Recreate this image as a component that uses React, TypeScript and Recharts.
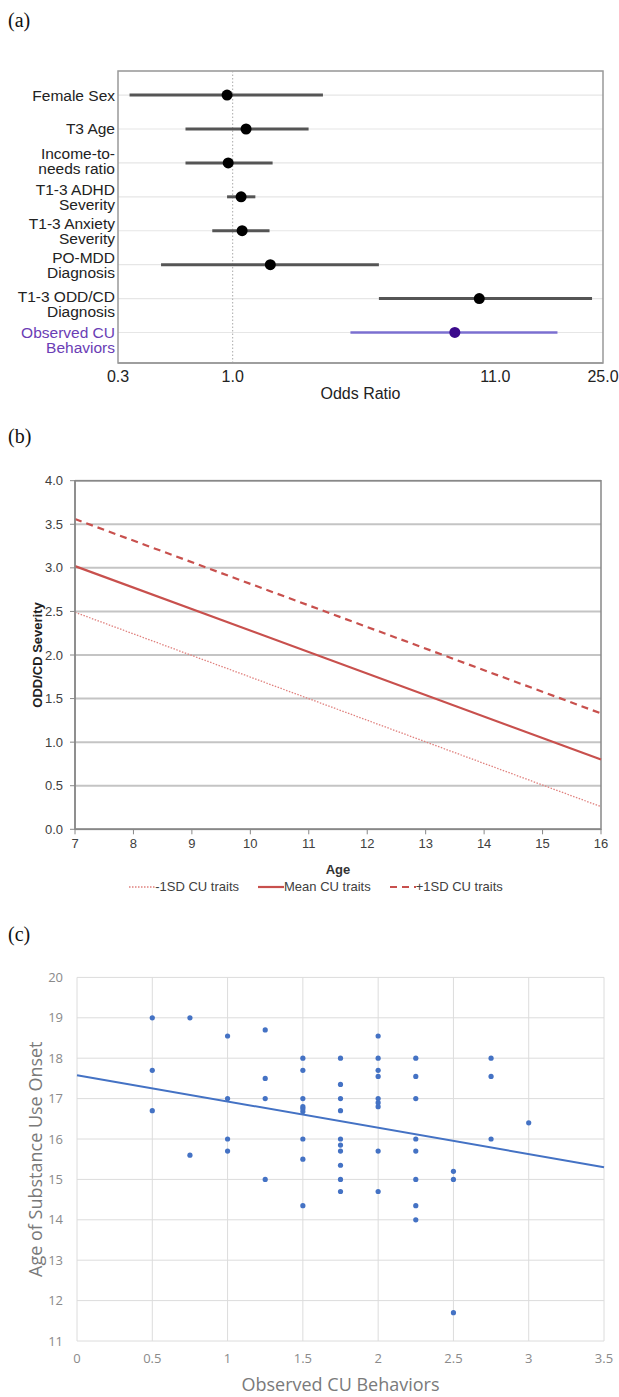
import React from "react"
import {
  ScatterChart, Scatter, LineChart, Line, XAxis, YAxis,
  CartesianGrid, ErrorBar, ReferenceLine, ReferenceArea,
} from "recharts"

// (a) odds ratios
const predictorLines = [
  ["Female Sex"],
  ["T3 Age"],
  ["Income-to-", "needs ratio"],
  ["T1-3 ADHD", "Severity"],
  ["T1-3 Anxiety", "Severity"],
  ["PO-MDD", "Diagnosis"],
  ["T1-3 ODD/CD", "Diagnosis"],
  ["Observed CU", "Behaviors"],
]
const oddsRatio = [0.95, 1.13, 0.96, 1.08, 1.09, 1.41, 9.5, 7.6]
const ciLower = [0.39, 0.65, 0.65, 0.95, 0.83, 0.52, 3.8, 2.93]
const ciUpper = [2.28, 2.0, 1.44, 1.23, 1.4, 3.8, 26.6, 19.4]
const oddsTicks = [0.351, 1, 11, 29.4]
const oddsTickLabels = ["0.3", "1.0", "11.0", "25.0"]
const oddsMinorTicks = [0.4, 0.5, 0.6, 0.7, 0.8, 0.9, 2, 3, 4, 5, 6, 7, 8, 9, 10, 20]
const rowIndex = [0, 1, 2, 3, 4, 5, 6, 7]

// (b) simple slopes
const ages = [7, 16]
const ageTicks = [7, 8, 9, 10, 11, 12, 13, 14, 15, 16]
const lowCU = [2.49, 0.26]
const meanCU = [3.02, 0.8]
const highCU = [3.56, 1.33]
const severityTicks = [0, 0.5, 1, 1.5, 2, 2.5, 3, 3.5, 4]

// (c) scatter
const cuX = [
  0.5, 0.5, 0.5,
  0.75, 0.75,
  1, 1, 1, 1,
  1.25, 1.25, 1.25, 1.25,
  1.5, 1.5, 1.5, 1.5, 1.5, 1.5, 1.5, 1.5, 1.5,
  1.75, 1.75, 1.75, 1.75, 1.75, 1.75, 1.75, 1.75, 1.75, 1.75,
  2, 2, 2, 2, 2, 2, 2, 2, 2,
  2.25, 2.25, 2.25, 2.25, 2.25, 2.25, 2.25, 2.25,
  2.5, 2.5, 2.5,
  2.75, 2.75, 2.75,
  3,
]
const onsetAge = [
  19.0, 17.7, 16.7,
  19.0, 15.6,
  18.55, 17.0, 16.0, 15.7,
  18.7, 17.5, 17.0, 15.0,
  18.0, 17.7, 17.0, 16.8, 16.75, 16.68, 16.0, 15.5, 14.35,
  18.0, 17.35, 17.0, 16.7, 16.0, 15.85, 15.7, 15.35, 15.0, 14.7,
  18.55, 18.0, 17.7, 17.55, 17.0, 16.9, 16.8, 15.7, 14.7,
  18.0, 17.55, 17.0, 16.0, 15.7, 15.0, 14.35, 14.0,
  15.2, 15.0, 11.7,
  18.0, 17.55, 16.0,
  16.4,
]
const trendX = [0, 3.5]
const trendY = [17.58, 15.3]
const cuTicks = [0, 0.5, 1, 1.5, 2, 2.5, 3, 3.5]
const onsetTicks = [11, 12, 13, 14, 15, 16, 17, 18, 19, 20]

const sans = "'Liberation Sans', Arial, sans-serif"
const open = "'Open Sans', sans-serif"
const red = "#c8504d"
const blue = "#4472c4"
// small vertical nudge of the row labels, as in the original figure
const labelShift = [0, 0, -2, 0, 0, 0, 6, 8]

const forestRows = rowIndex.map((i) => ({
  y: i,
  or: oddsRatio[i],
  err: [oddsRatio[i] - ciLower[i], ciUpper[i] - oddsRatio[i]],
}))
const forestMain = forestRows.slice(0, 7)
const forestCU = forestRows.slice(7)

const slopeData = ages.map((a, i) => ({ age: a, low: lowCU[i], mean: meanCU[i], high: highCU[i] }))
const slopeSeries = [
  { key: "low", name: "-1SD CU traits", dash: "1.5 1.5", width: 1.3, color: "#e0817e" },
  { key: "mean", name: "Mean CU traits", dash: undefined, width: 2.2, color: red },
  { key: "high", name: "+1SD CU traits", dash: "7 5", width: 2.2, color: red },
]

const scatterData = cuX.map((x, i) => ({ x, y: onsetAge[i] }))
const trendData = trendX.map((x, i) => ({ x, y: trendY[i] }))

function PredictorTick({ x, y, payload }: any) {
  const lines = predictorLines[payload.value] || []
  const color = payload.value === 7 ? "#6a3db5" : "#222"
  const step = 15
  const start = -(lines.length - 1) * step / 2 + (labelShift[payload.value] || 0)
  return (
    <text x={x} y={y} textAnchor="end" fill={color} fontSize={15.5} fontFamily={sans}>
      {lines.map((l, i) => (
        <tspan key={i} x={x} y={y + start + i * step} dy="0.35em">{l}</tspan>
      ))}
    </text>
  )
}

const dot = (color: string, r: number) => (p: any) =>
  <circle cx={p.cx} cy={p.cy} r={r} fill={color} />

function PanelTag({ text, top }: { text: string; top: number }) {
  return (
    <div style={{
      position: "absolute", left: 8, top, lineHeight: "22px",
      fontFamily: "'Liberation Serif', 'Times New Roman', serif", fontSize: 20, color: "#111",
    }}>{text}</div>
  )
}

function ForestPlot() {
  return (
    <ScatterChart width={619} height={405} margin={{ top: 71, right: 16, bottom: 6, left: 0 }}>
      <CartesianGrid vertical={false} stroke="#e6e6e6" strokeWidth={1.2} />
      <XAxis
        type="number" dataKey="or" scale="log" domain={[0.351, 29.4]} allowDataOverflow
        ticks={oddsTicks}
        tickFormatter={(v) => oddsTickLabels[oddsTicks.indexOf(v)] ?? ""}
        tick={{ fontSize: 16, fill: "#222", fontFamily: sans }}
        tickLine={false} tickSize={0} tickMargin={8}
        axisLine={{ stroke: "#999", strokeWidth: 1.5 }}
        height={36}
        label={{ value: "Odds Ratio", position: "insideBottom", offset: 0, fontSize: 16, fill: "#222", fontFamily: sans }}
      />
      <XAxis
        xAxisId="top" orientation="top" type="number" scale="log" domain={[0.351, 29.4]} allowDataOverflow
        ticks={oddsMinorTicks} tickFormatter={() => ""} mirror tickSize={4}
        tickLine={{ stroke: "#999" }} axisLine={false} height={0}
      />
      <YAxis
        type="number" dataKey="y" domain={[-0.71, 7.9]} reversed allowDataOverflow
        ticks={rowIndex} tick={<PredictorTick />} tickLine={false} tickSize={0} tickMargin={3}
        axisLine={false} width={118}
      />
      <ReferenceLine x={1} stroke="#aaa" strokeDasharray="1.5 2" />
      <ReferenceArea x1={0.351} x2={29.4} y1={-0.71} y2={7.9} fill="none" stroke="#999" strokeWidth={1.5} />
      <Scatter data={forestMain} shape={dot("#000", 5.5)} isAnimationActive={false}>
        <ErrorBar dataKey="err" direction="x" width={0} stroke="#555" strokeWidth={3} isAnimationActive={false} />
      </Scatter>
      <Scatter data={forestCU} shape={dot("#3b0a8c", 5.5)} isAnimationActive={false}>
        <ErrorBar dataKey="err" direction="x" width={0} stroke="#7b6fd0" strokeWidth={2.5} isAnimationActive={false} />
      </Scatter>
    </ScatterChart>
  )
}

function SlopePlot() {
  return (
    <LineChart width={619} height={450} data={slopeData} margin={{ top: 40.7, right: 18, bottom: 15.7, left: 0 }}>
      <CartesianGrid vertical={false} stroke="#c4c4c4" strokeWidth={2} />
      <XAxis
        type="number" dataKey="age" domain={[7, 16]} ticks={ageTicks}
        tick={{ fontSize: 13, fill: "#404040", fontFamily: sans }}
        tickSize={5} tickMargin={4} tickLine={{ stroke: "#888" }}
        axisLine={{ stroke: "#888", strokeWidth: 1.5 }} height={45}
        label={{ value: "Age", position: "insideBottom", offset: 0, fontSize: 13, fontWeight: "bold", fill: "#333", fontFamily: sans }}
      />
      <YAxis
        type="number" domain={[0, 4]} ticks={severityTicks}
        tickFormatter={(v) => v.toFixed(1)}
        tick={{ fontSize: 13, fill: "#404040", fontFamily: sans }}
        tickSize={5} tickMargin={7} tickLine={{ stroke: "#888" }}
        axisLine={{ stroke: "#888", strokeWidth: 1.5 }} width={75}
        label={{ value: "ODD/CD Severity", angle: -90, position: "center", dx: 0, fontSize: 13, fontWeight: "bold", fill: "#222", fontFamily: sans }}
      />
      <ReferenceArea x1={7} x2={16} y1={0} y2={4} fill="none" stroke="#888" strokeWidth={1.5} />
      {slopeSeries.map((s) => (
        <Line
          key={s.key} type="linear" dataKey={s.key} name={s.name}
          stroke={s.color} strokeWidth={s.width} strokeDasharray={s.dash}
          dot={false} isAnimationActive={false}
        />
      ))}
    </LineChart>
  )
}

function SlopeLegend() {
  return (
    <div style={{
      position: "absolute", left: 0, top: 878, width: 619, paddingLeft: 13, boxSizing: "border-box",
      display: "flex", justifyContent: "center", gap: 19,
      fontFamily: sans, fontSize: 13, color: "#404040", lineHeight: "18px",
    }}>
      {slopeSeries.map((s) => (
        <div key={s.key} style={{ display: "flex", alignItems: "center" }}>
          <svg width={26} height={10}>
            <line x1={0} y1={5} x2={26} y2={5} stroke={s.color} strokeWidth={s.width} strokeDasharray={s.dash} />
          </svg>
          <span>{s.name}</span>
        </div>
      ))}
    </div>
  )
}

function OnsetPlot() {
  return (
    <ScatterChart width={619} height={457} margin={{ top: 37.4, right: 15, bottom: 0, left: 0 }}>
      <CartesianGrid stroke="#dcdcdc" strokeWidth={1} />
      <XAxis
        type="number" dataKey="x" domain={[0, 3.5]} ticks={cuTicks}
        tick={{ fontSize: 13, fill: "#8a8a8a", fontFamily: open }}
        tickLine={false} tickSize={0} tickMargin={13} axisLine={false} height={56}
        label={{ value: "Observed CU Behaviors", position: "insideBottom", offset: 6, fontSize: 18, fill: "#7a7a7a", fontFamily: open }}
      />
      <YAxis
        type="number" dataKey="y" domain={[11, 20]} ticks={onsetTicks}
        tick={{ fontSize: 13, fill: "#8a8a8a", fontFamily: open }}
        tickLine={false} tickSize={0} tickMargin={14} axisLine={false} width={77}
        label={{ value: "Age of Substance Use Onset", angle: -90, position: "center", dx: -3, fontSize: 18, fill: "#7a7a7a", fontFamily: open }}
      />
      <Scatter data={scatterData} shape={dot(blue, 2.6)} isAnimationActive={false} />
      <Scatter
        data={trendData} line={{ stroke: blue, strokeWidth: 2 }} lineType="joint"
        shape={() => null} isAnimationActive={false}
      />
    </ScatterChart>
  )
}

export default function App() {
  return (
    <div style={{ position: "absolute", left: 0, top: 0, width: 619, height: 1397, background: "#fff", overflow: "hidden" }}>
      <PanelTag text="(a)" top={9} />
      <div style={{ position: "absolute", left: 0, top: 0 }}><ForestPlot /></div>
      <PanelTag text="(b)" top={425} />
      <div style={{ position: "absolute", left: 0, top: 440 }}><SlopePlot /></div>
      <SlopeLegend />
      <PanelTag text="(c)" top={923} />
      <div style={{ position: "absolute", left: 0, top: 940 }}><OnsetPlot /></div>
    </div>
  )
}
